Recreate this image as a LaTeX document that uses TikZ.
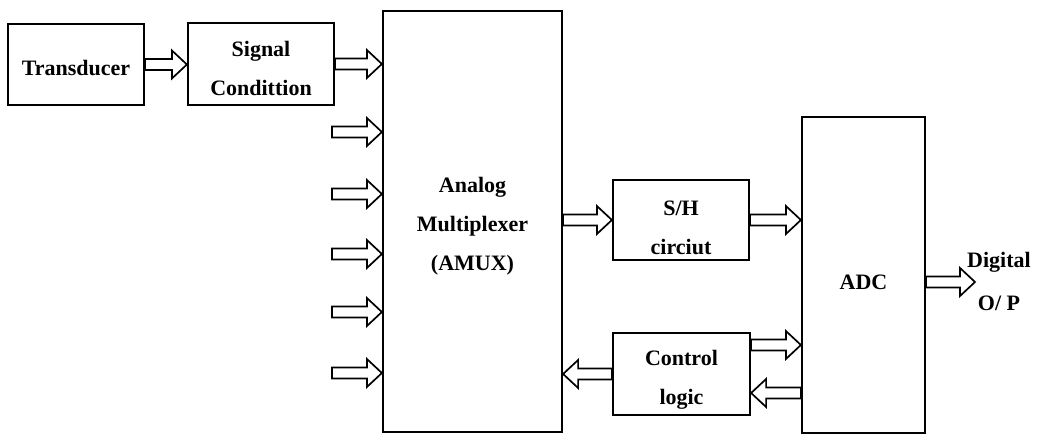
\documentclass[tikz,border=0pt]{standalone}
\usepackage{fontspec}
\setmainfont{Liberation Serif}
\usetikzlibrary{calc}
\tikzset{
  blk/.style={draw, line width=2.2pt, inner sep=0pt, align=center,
    font=\fontsize{22}{39}\selectfont\bfseries},
  lbl/.style={inner sep=0pt, align=center, font=\fontsize{22}{43}\selectfont\bfseries},
  harrow/.style={draw, line width=1.7pt, line join=miter, fill=white},
}
% strut pushing a block's text down
\newcommand{\dn}[1]{\rule{0pt}{#1}}
% hollow block arrow pointing right, from #1 to #2
\newcommand{\rarr}[2]{%
  \draw[harrow] let \p1=(#1), \p2=(#2) in
    (\x1,\y2+5.5pt) -- (\x2-15pt,\y2+5.5pt) -- (\x2-15pt,\y2+14pt) -- (\x2,\y2)
    -- (\x2-15pt,\y2-14pt) -- (\x2-15pt,\y2-5.5pt) -- (\x1,\y2-5.5pt) -- cycle;}
% hollow block arrow pointing left, from #1 to #2
\newcommand{\larr}[2]{%
  \draw[harrow] let \p1=(#1), \p2=(#2) in
    (\x1,\y2+5.5pt) -- (\x2+15pt,\y2+5.5pt) -- (\x2+15pt,\y2+14pt) -- (\x2,\y2)
    -- (\x2+15pt,\y2-14pt) -- (\x2+15pt,\y2-5.5pt) -- (\x1,\y2-5.5pt) -- cycle;}
\begin{document}
\begin{tikzpicture}[x=1pt,y=-1pt]
\useasboundingbox (0,0) rectangle (1043,435);
% blocks
\node[blk, minimum width=136pt, minimum height=81pt] (T) at (76,64.5) {\dn{23pt}Transducer};
\node[blk, minimum width=146pt, minimum height=82pt] (S) at (261,64) {\dn{25pt}Signal\\Condittion};
\node[blk, minimum width=179pt, minimum height=421pt] (M) at (472.5,221.5) {\dn{25pt}Analog\\Multiplexer\\(AMUX)};
\node[blk, minimum width=136pt, minimum height=80pt] (SH) at (681,220) {\dn{31pt}S/H\\circiut};
\node[blk, minimum width=137pt, minimum height=82pt] (CL) at (681.5,374) {\dn{26pt}Control\\logic};
\node[blk, minimum width=123pt, minimum height=316pt, text height=28.5pt, text depth=0pt] (ADC) at (863.5,275) {ADC};
\node[lbl] (DO) at (999,281) {Digital\\O/ P};
% free ends
\coordinate (in1) at (332,132);
\coordinate (in2) at (332,194);
\coordinate (in3) at (332,254);
\coordinate (in4) at (332,312);
\coordinate (in5) at (332,373);
\coordinate (dout) at (975,282);
% connectors
\rarr{T.east}{S.west |- T.east}
\rarr{S.east}{M.west |- S.east}
\rarr{in1}{in1 -| M.west}
\rarr{in2}{in2 -| M.west}
\rarr{in3}{in3 -| M.west}
\rarr{in4}{in4 -| M.west}
\rarr{in5}{in5 -| M.west}
\rarr{M.east |- SH.west}{SH.west}
\rarr{SH.east}{ADC.west |- SH.east}
\larr{CL.west}{M.east |- CL.west}
\rarr{$(CL.east)+(0,-29)$}{$(ADC.west |- CL.east)+(0,-29)$}
\larr{$(ADC.west |- CL.east)+(0,19)$}{$(CL.east)+(0,19)$}
\rarr{$(ADC.east)+(0,7)$}{dout}
\end{tikzpicture}
\end{document}
